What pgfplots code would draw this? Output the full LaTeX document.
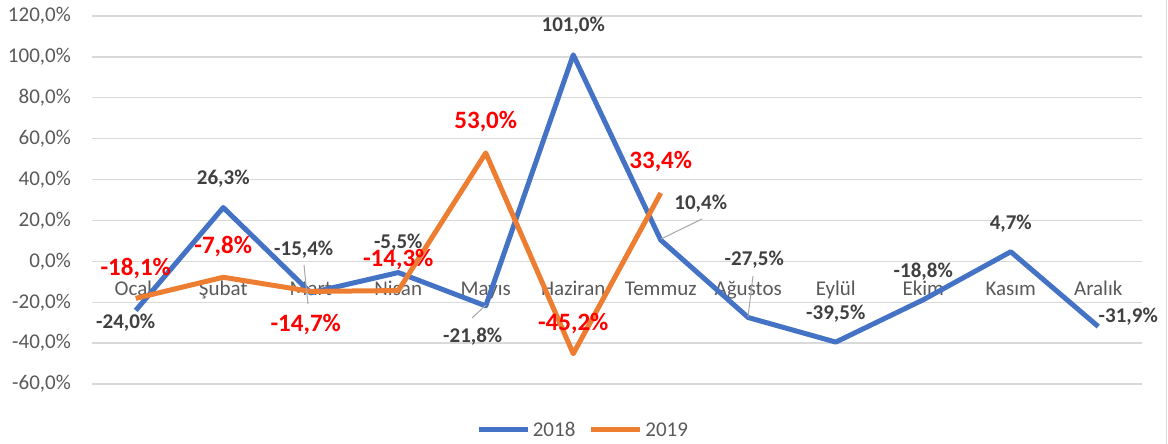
\documentclass[border=0pt]{standalone}
\usepackage{fontspec}
\setmainfont{Carlito}
\usepackage{pgfplots}
\pgfplotsset{compat=1.18}
\definecolor{blue18}{HTML}{4472C4}
\definecolor{orange19}{HTML}{ED7D31}
\definecolor{gridgray}{HTML}{D9D9D9}
\definecolor{ticktext}{HTML}{595959}
\definecolor{labeltext}{HTML}{404040}
\definecolor{leader}{HTML}{A6A6A6}
\tikzset{
  lab18/.style={font=\fontsize{21}{24}\selectfont\bfseries, text=labeltext, inner sep=0pt},
  lab19/.style={font=\fontsize{25}{28}\selectfont\bfseries, text=red, inner sep=0pt},
}

\begin{document}
\begin{tikzpicture}[x=1pt,y=1pt]
\path[use as bounding box] (0,0) rectangle (1168,444);
\begin{axis}[
  at={(92pt,60pt)}, anchor=south west,
  scale only axis, width=1050pt, height=368pt,
  xmin=-0.5, xmax=11.5, ymin=-60, ymax=120,
  axis line style={draw=none},
  major tick length=0pt,
  xtick={0,...,11},
  xticklabels={Ocak,Şubat,Mart,Nisan,Mayıs,Haziran,Temmuz,Ağustos,Eylül,Ekim,Kasım,Aralık},
  xticklabel style={anchor=base, yshift=88pt, inner sep=0pt,
                    font=\fontsize{21}{24}\selectfont, text=ticktext},
  ytick={-60,-40,...,120},
  yticklabels={{-60,0\%},{-40,0\%},{-20,0\%},{0,0\%},{20,0\%},{40,0\%},{60,0\%},{80,0\%},{100,0\%},{120,0\%}},
  yticklabel style={anchor=east, inner sep=0pt, xshift=-21pt,
                    font=\fontsize{21}{24}\selectfont, text=ticktext},
  ymajorgrids,
  grid style={draw=gridgray, line width=1.4pt},
  clip=false,
  legend columns=2,
  legend image code/.code={\draw[#1] (0pt,0pt) -- (49pt,0pt);},
  legend style={draw=none, fill=none, at={(0.468,-0.125)}, anchor=center,
                font=\fontsize{21}{24}\selectfont, text=ticktext,
                nodes={inner sep=2.5pt},
                /tikz/every even column/.append style={column sep=11pt}},
]
% 2018
\addplot[blue18, line width=5pt, line join=round, mark=none] coordinates {
  (0,-24.0) (1,26.3) (2,-15.4) (3,-5.5) (4,-21.8) (5,101.0)
  (6,10.4) (7,-27.5) (8,-39.5) (9,-18.8) (10,4.7) (11,-31.9)
};
\addlegendentry{2018}
% 2019
\addplot[orange19, line width=5pt, line join=round, mark=none] coordinates {
  (0,-18.1) (1,-7.8) (2,-14.7) (3,-14.3) (4,53.0) (5,-45.2) (6,33.4)
};
\addlegendentry{2019}

% data labels 2018
\node[lab18, xshift=-10pt, yshift=-12pt] at (axis cs:0,-24.0) {-24,0\%};
\node[lab18, yshift=29pt] at (axis cs:1,26.3) {26,3\%};
\node[lab18, xshift=-7pt, yshift=43pt] at (axis cs:2,-15.4) {-15,4\%};
\node[lab18, yshift=29.5pt] at (axis cs:3,-5.5) {-5,5\%};
\node[lab18, xshift=-13pt, yshift=-30.6pt] at (axis cs:4,-21.8) {-21,8\%};
\node[lab18, yshift=29pt] at (axis cs:5,101.0) {101,0\%};
\node[lab18, xshift=40pt, yshift=36.5pt] at (axis cs:6,10.4) {10,4\%};
\node[lab18, xshift=6pt, yshift=57.5pt] at (axis cs:7,-27.5) {-27,5\%};
\node[lab18, yshift=28.6pt] at (axis cs:8,-39.5) {-39,5\%};
\node[lab18, yshift=28pt] at (axis cs:9,-18.8) {-18,8\%};
\node[lab18, yshift=28pt] at (axis cs:10,4.7) {4,7\%};
\node[lab18, xshift=30pt, yshift=10pt] at (axis cs:11,-31.9) {-31,9\%};

% data labels 2019
\node[lab19, yshift=30pt] at (axis cs:0,-18.1) {-18,1\%};
\node[lab19, yshift=30.7pt] at (axis cs:1,-7.8) {-7,8\%};
\node[lab19, xshift=-5pt, yshift=-33.6pt] at (axis cs:2,-14.7) {-14,7\%};
\node[lab19, yshift=31pt] at (axis cs:3,-14.3) {-14,3\%};
\node[lab19, yshift=31.4pt] at (axis cs:4,53.0) {53,0\%};
\node[lab19, yshift=30pt] at (axis cs:5,-45.2) {-45,2\%};
\node[lab19, yshift=31pt] at (axis cs:6,33.4) {33,4\%};
\end{axis}

% leader lines
\draw[leader, line width=1pt] (304,179) -- (308,140);
\draw[leader, line width=1pt] (472,126) -- (486,139);
\draw[leader, line width=1pt] (661,205) -- (702,225);
\draw[leader, line width=1pt] (748,127) -- (753,168);
% chart border on the right
\draw[gridgray, line width=1pt] (1166.5,0) -- (1166.5,444);
\end{tikzpicture}
\end{document}
